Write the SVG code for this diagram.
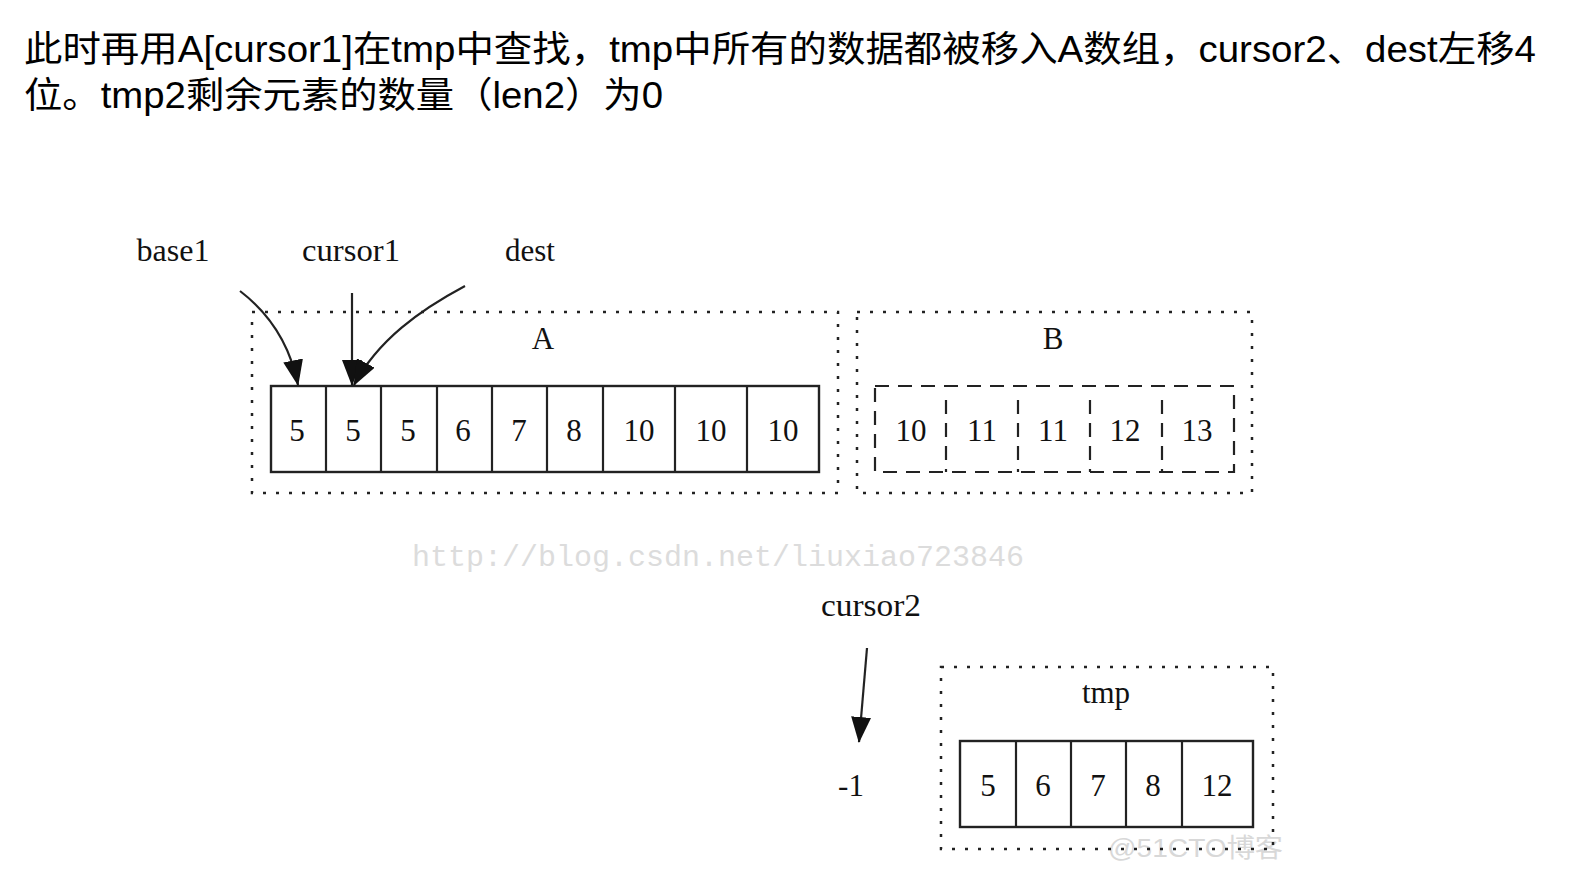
<svg xmlns="http://www.w3.org/2000/svg" width="1572" height="880" viewBox="0 0 1572 880">
<style>
.head{font-family:"Liberation Sans","Noto Sans CJK SC",sans-serif;font-size:36px;fill:#000}
.lbl{font-family:"Liberation Serif",serif;font-size:31px;fill:#111;text-anchor:middle}
.cell{font-family:"Liberation Serif",serif;font-size:31px;fill:#111;text-anchor:middle}
.cluster{fill:none;stroke:#222;stroke-width:2.5;stroke-dasharray:3 10}
.arr{fill:#fff;stroke:#222;stroke-width:2.4}
.dash{fill:none;stroke:#222;stroke-width:2.2;stroke-dasharray:14 9}
.edge{fill:none;stroke:#222;stroke-width:2.2}
.wm{font-family:"Liberation Mono",monospace;font-size:30px;fill:#dcdcdc}
</style>
<defs>
<marker id="ah2" viewBox="0 0 26 20" refX="25" refY="10" markerWidth="26" markerHeight="20" orient="auto" markerUnits="userSpaceOnUse">
<path d="M0,0 L26,10 L0,20 z" fill="#111"/>
</marker>
</defs>
<rect width="1572" height="880" fill="#fff"/>
<g id="heading">
<text class="head" x="24" y="62" textLength="1512" lengthAdjust="spacingAndGlyphs">此时再用A[cursor1]在tmp中查找，tmp中所有的数据都被移入A数组，cursor2、dest左移4</text>
<text class="head" x="24" y="108" textLength="639" lengthAdjust="spacingAndGlyphs">位。tmp2剩余元素的数量（len2）为0</text>
</g>
<g id="watermarks">
<text class="wm" x="412" y="566" textLength="612" lengthAdjust="spacingAndGlyphs">http://blog.csdn.net/liuxiao723846</text>
<text x="1108" y="857" font-family="Liberation Sans,'Noto Sans CJK SC',sans-serif" font-size="26" fill="#d8d8d8" textLength="175" lengthAdjust="spacingAndGlyphs">@51CTO博客</text>
</g>
<g id="label-base1"><text class="lbl" x="173" y="261" textLength="73" lengthAdjust="spacingAndGlyphs">base1</text></g>
<g id="label-cursor1"><text class="lbl" x="351" y="261" textLength="98" lengthAdjust="spacingAndGlyphs">cursor1</text></g>
<g id="label-dest"><text class="lbl" x="530" y="261">dest</text></g>
<g id="cluster-A">
<rect class="cluster" x="252" y="312" width="586" height="181"/>
<text class="lbl" x="543" y="349">A</text>
</g>
<g id="array-A">
<rect class="arr" x="271" y="386" width="548" height="86"/>
<path class="edge" d="M326,386V472M381,386V472M437,386V472M492,386V472M547,386V472M603,386V472M675,386V472M747,386V472"/>
<text class="cell" x="297" y="441">5</text>
<text class="cell" x="353" y="441">5</text>
<text class="cell" x="408" y="441">5</text>
<text class="cell" x="463" y="441">6</text>
<text class="cell" x="519" y="441">7</text>
<text class="cell" x="574" y="441">8</text>
<text class="cell" x="639" y="441">10</text>
<text class="cell" x="711" y="441">10</text>
<text class="cell" x="783" y="441">10</text>
</g>
<g id="cluster-B">
<rect class="cluster" x="857" y="312" width="395" height="181"/>
<text class="lbl" x="1053" y="349">B</text>
</g>
<g id="array-B">
<rect class="dash" x="875" y="386" width="359" height="86"/>
<path class="dash" d="M946,400V472M1018,400V472M1090,400V472M1162,400V472"/>
<text class="cell" x="911" y="441">10</text>
<text class="cell" x="982" y="441">11</text>
<text class="cell" x="1053" y="441">11</text>
<text class="cell" x="1125" y="441">12</text>
<text class="cell" x="1197" y="441">13</text>
</g>
<g id="label-cursor2"><text class="lbl" x="871" y="616" textLength="100" lengthAdjust="spacingAndGlyphs">cursor2</text></g>
<g id="label-minus1"><text class="lbl" x="851" y="796">-1</text></g>
<g id="cluster-tmp">
<rect class="cluster" x="941" y="667" width="332" height="182"/>
<text class="lbl" x="1106" y="703">tmp</text>
</g>
<g id="array-tmp">
<rect class="arr" x="960" y="741" width="293" height="86"/>
<path class="edge" d="M1016,741V827M1071,741V827M1126,741V827M1182,741V827"/>
<text class="cell" x="988" y="796">5</text>
<text class="cell" x="1043" y="796">6</text>
<text class="cell" x="1098" y="796">7</text>
<text class="cell" x="1153" y="796">8</text>
<text class="cell" x="1217" y="796">12</text>
</g>
<g id="connectors">
<path class="edge" d="M240,291 C270,314 290,345 298,385" marker-end="url(#ah2)"/>
<path class="edge" d="M352,293 V385" marker-end="url(#ah2)"/>
<path class="edge" d="M465,286 C420,310 378,340 354,385" marker-end="url(#ah2)"/>
<path class="edge" d="M867,648 L859,742" marker-end="url(#ah2)"/>
</g>
</svg>
